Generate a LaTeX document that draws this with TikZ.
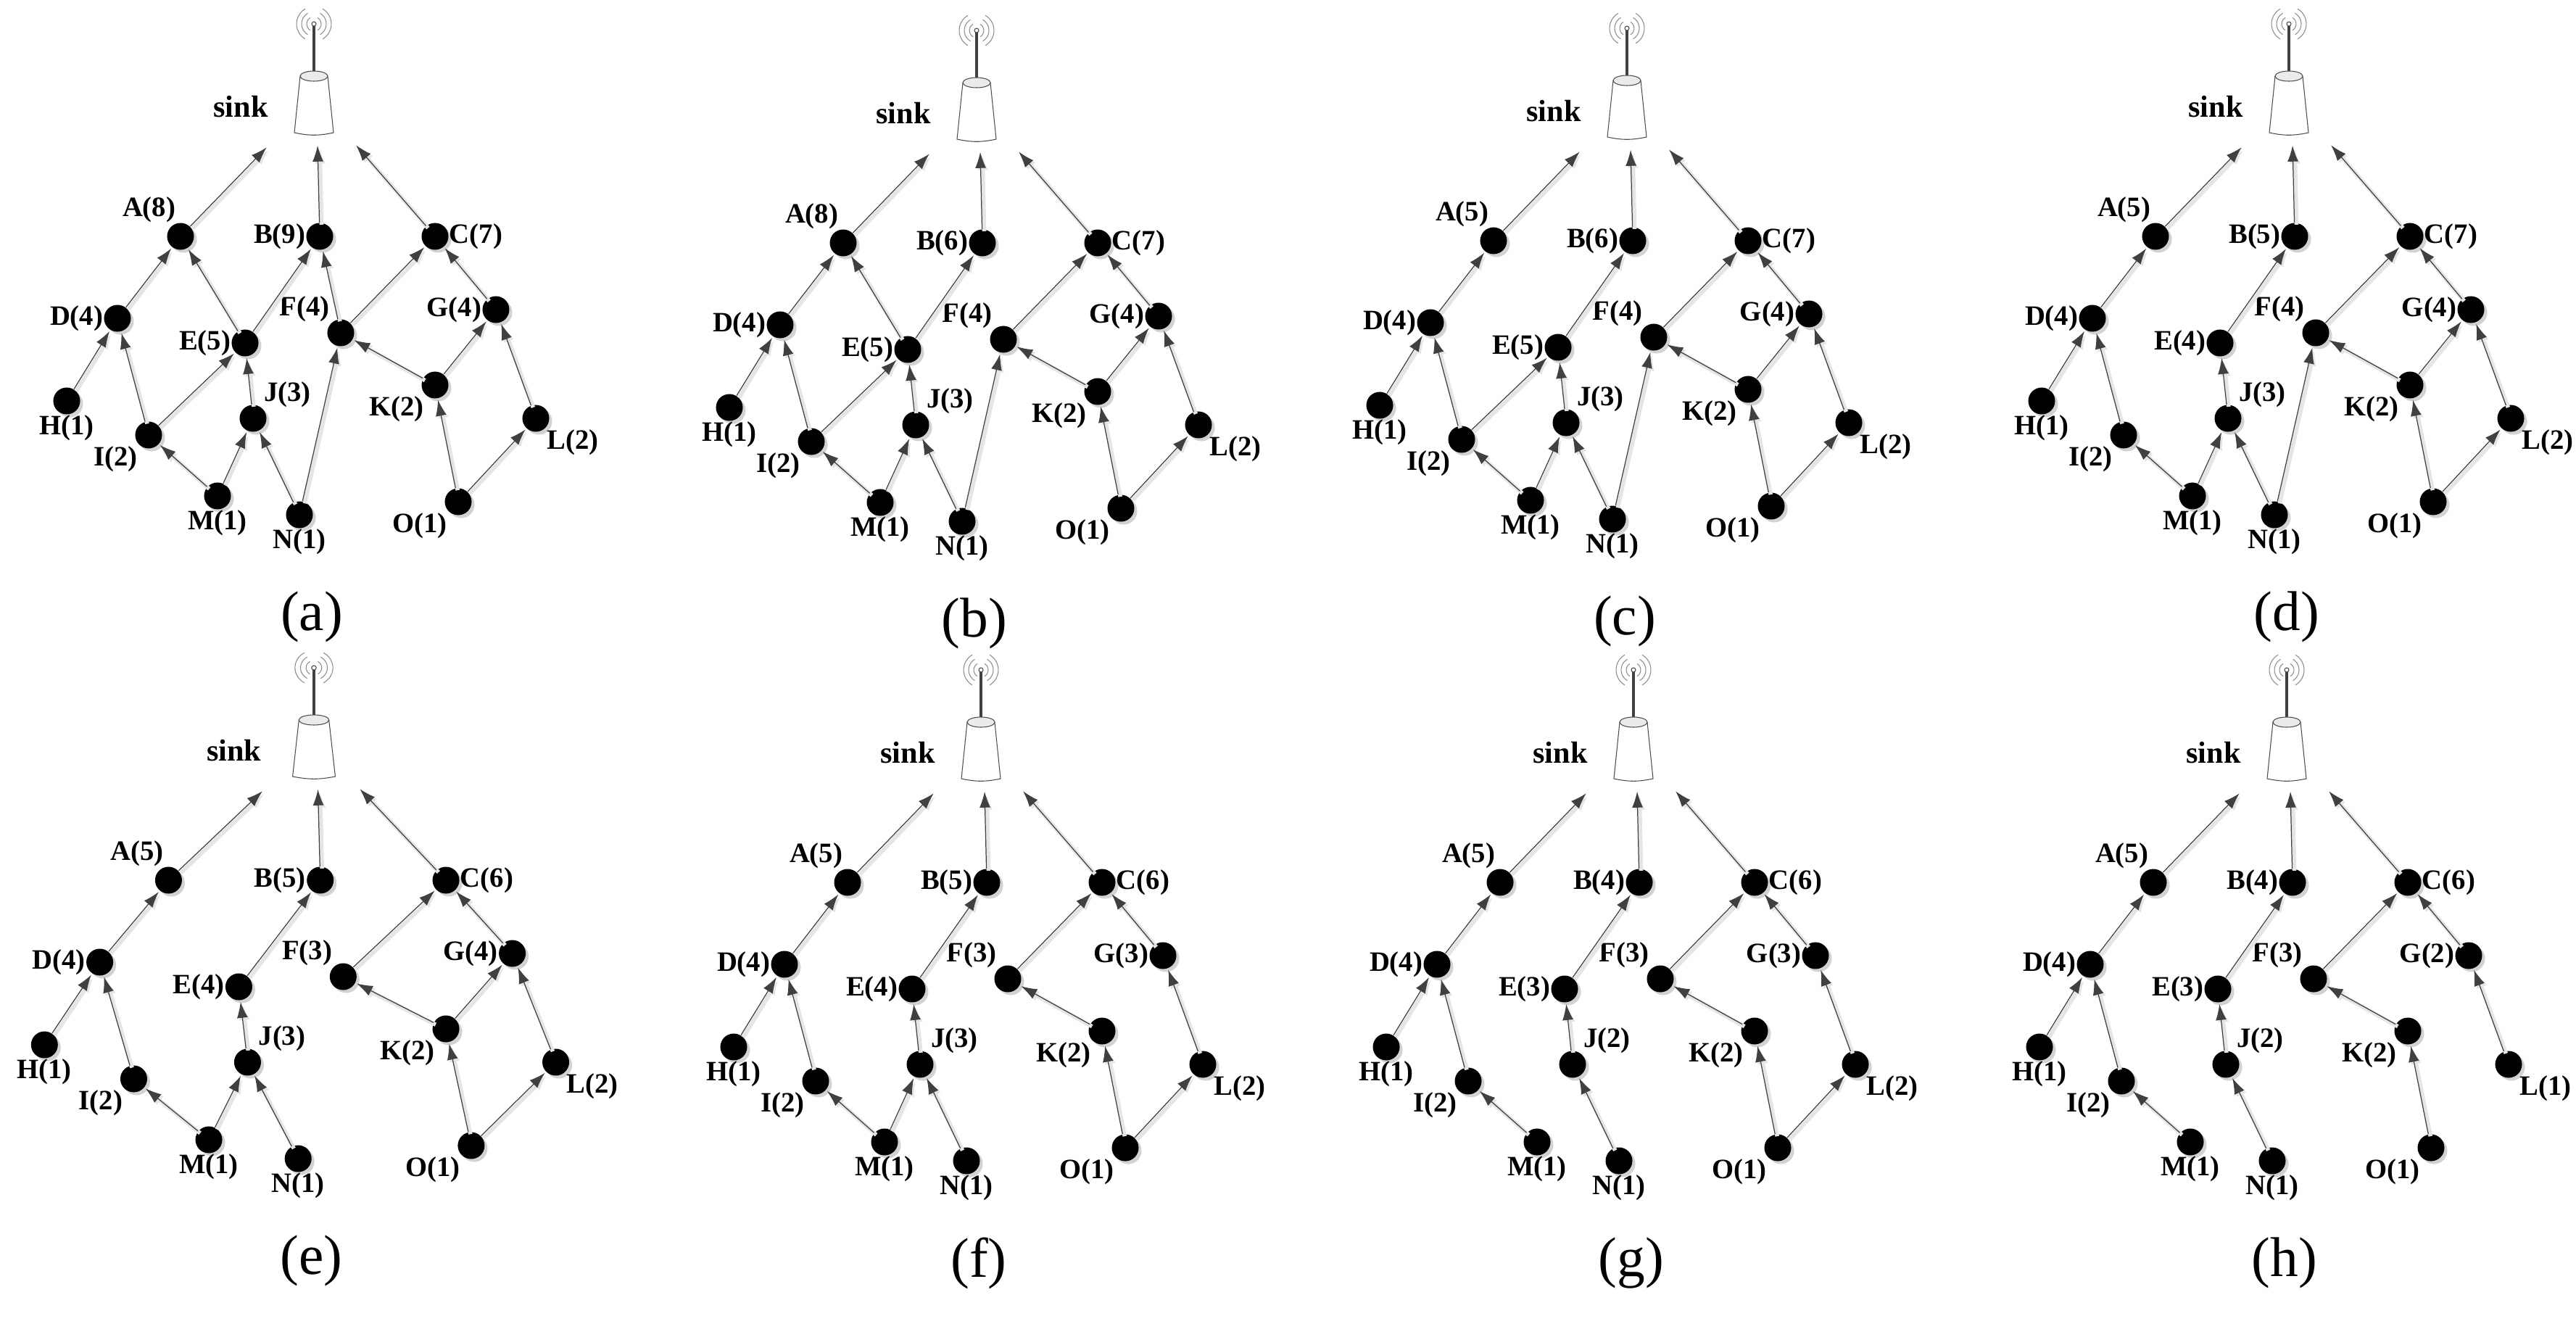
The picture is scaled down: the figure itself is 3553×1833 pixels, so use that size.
\documentclass[tikz,border=0pt]{standalone}
\usepackage{fontspec}
\setmainfont{Liberation Serif}
\usetikzlibrary{arrows.meta,shadows}

% one unit = one pixel of the layout, y pointing down
\tikzset{
  dot/.style={circle, fill=black, minimum size=0.37cm, inner sep=0pt,
    drop shadow={shadow xshift=0.04cm, shadow yshift=-0.04cm, fill=black!35, opacity=0.5}},
  lbl/.style={font=\fontsize{11}{13}\selectfont\bfseries, inner sep=1pt, label distance=-1pt},
  sinklbl/.style={font=\fontsize{12}{14}\selectfont\bfseries, inner sep=0pt},
  sublbl/.style={font=\fontsize{22}{26}\selectfont, inner sep=0pt},
  edge/.style={draw=black!80, line width=0.35pt, shorten >=0.5pt,
    -{Latex[length=0.22cm, width=0.15cm]}, color=black!75,
    preaction={draw=black!10, line width=1.6pt, transform canvas={shift={(0.03cm,-0.03cm)}}}},
  tower/.style={draw=black!70, line width=0.3pt}
}

% #1 prefix, #2 x of sink, #3 top y, #4 xscale, #5 weights of A..O, #6 links child/parent
\newcommand{\panel}[6]{%
\begin{scope}[shift={(#2,#3)}, xscale=#4]
  % sink
  \foreach \r in {0.1cm,0.17cm,0.24cm}{
    \draw[black!45, line width=0.3pt] (0,4) ++(120:\r) arc[start angle=120, end angle=240, radius=\r];
    \draw[black!45, line width=0.3pt] (0,4) ++(60:\r) arc[start angle=60, end angle=-60, radius=\r];
  }
  \draw[black!75, line width=0.045cm] (0,7) -- (0,74);
  \draw[tower, fill=white] (0,4) circle (0.03cm);
  \draw[tower, fill=white] (-19,76) -- (-27,154) to[bend right=12] (27,154) -- (19,76);
  \draw[tower, fill=black!8] (0,76) ellipse (0.19cm and 0.07cm);
  \node[sinklbl] (#1sink) at (-101,118) {sink};
  \coordinate (#1s1) at (-64,173);
  \coordinate (#1s2) at (5,170);
  \coordinate (#1s3) at (57,170);
  % nodes
  \foreach \n/\x/\y/\a [count=\i] in {A/-184/297/100, B/8/297/left, C/167/297/right,
      D/-271/410/left, E/-95/444/left, F/37/430/above left, G/251/398/left,
      H/-341/524/below, I/-228/571/below left, J/-84/548/above right, K/167/502/below left,
      L/306/548/below right, M/-133/655/below, N/-20/681/below, O/199/663/below left}{
    \pgfmathtruncatemacro{\v}{{#5}[\i-1]}
    \node[dot, label={[lbl]\a:\n(\v)}] (#1\n) at (\x,\y) {};
  }
  % links
  \draw[edge] (#1A) -- (#1s1);
  \draw[edge] (#1B) -- (#1s2);
  \draw[edge] (#1C) -- (#1s3);
  \foreach \s/\t in {#6}{
    \draw[edge] (#1\s) -- (#1\t);
  }
  \node[sublbl] (#1cap) at (-3,822) {(#1)};
\end{scope}}

\begin{document}
\begin{tikzpicture}[x=0.01cm, y=-0.01cm]
\useasboundingbox (0,0) rectangle (3553,1833);

\panel{a}{433}{29}{1}{8,9,7,4,5,4,4,1,2,3,2,2,1,1,1}
  {H/D,I/D,I/E,D/A,E/A,E/B,F/B,J/E,M/I,M/J,N/J,N/F,F/C,K/F,K/G,G/C,L/G,O/K,O/L}
\panel{b}{1347}{38}{1}{8,6,7,4,5,4,4,1,2,3,2,2,1,1,1}
  {H/D,I/D,I/E,D/A,E/A,E/B,J/E,M/I,M/J,N/J,N/F,F/C,K/F,K/G,G/C,L/G,O/K,O/L}
\panel{c}{2244}{35}{1}{5,6,7,4,5,4,4,1,2,3,2,2,1,1,1}
  {H/D,I/D,I/E,D/A,E/B,J/E,M/I,M/J,N/J,N/F,F/C,K/F,K/G,G/C,L/G,O/K,O/L}
\panel{d}{3157}{29}{1}{5,5,7,4,4,4,4,1,2,3,2,2,1,1,1}
  {H/D,I/D,D/A,E/B,J/E,M/I,M/J,N/J,N/F,F/C,K/F,K/G,G/C,L/G,O/K,O/L}

\panel{e}{433}{917}{1.09}{5,5,6,4,4,3,4,1,2,3,2,2,1,1,1}
  {H/D,I/D,D/A,E/B,J/E,M/I,M/J,N/J,F/C,K/F,K/G,G/C,L/G,O/K,O/L}
\panel{f}{1353}{920}{1}{5,5,6,4,4,3,3,1,2,3,2,2,1,1,1}
  {H/D,I/D,D/A,E/B,J/E,M/I,M/J,N/J,F/C,K/F,G/C,L/G,O/K,O/L}
\panel{g}{2253}{920}{1}{5,4,6,4,3,3,3,1,2,2,2,2,1,1,1}
  {H/D,I/D,D/A,E/B,J/E,M/I,N/J,F/C,K/F,G/C,L/G,O/K,O/L}
\panel{h}{3154}{920}{1}{5,4,6,4,3,3,2,1,2,2,2,1,1,1,1}
  {H/D,I/D,D/A,E/B,J/E,M/I,N/J,F/C,K/F,G/C,L/G,O/K}
\end{tikzpicture}
\end{document}
